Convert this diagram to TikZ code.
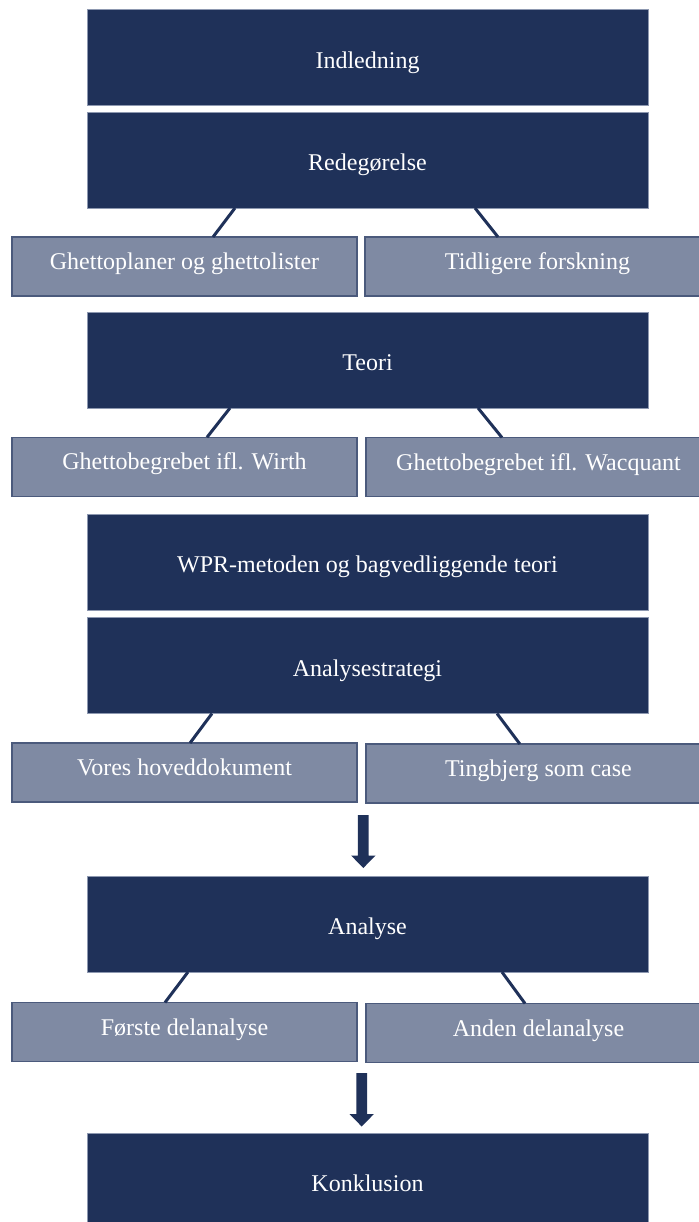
\documentclass[tikz,border=0pt]{standalone}
\usepackage{fontspec}
\setmainfont{Liberation Serif}
\usetikzlibrary{calc}
\definecolor{navy}{HTML}{1F3159}
\definecolor{slate}{HTML}{7F8AA3}
\definecolor{slateedge}{HTML}{4B5A7C}
\definecolor{navyedge}{HTML}{8D98B0}
\newcommand\flowarrow[2]{%
  \fill[navy] ($(#1)+(-5.35,0)$) -- ($(#1)+(5.35,0)$) -- ($(#2)+(5.35,-12.5)$)
    -- ($(#2)+(12.2,-12.5)$) -- (#2) -- ($(#2)+(-12.2,-12.5)$)
    -- ($(#2)+(-5.35,-12.5)$) -- cycle;}
\begin{document}
\begin{tikzpicture}[x=0.5pt,y=-0.5pt,
  darkbox/.style={rectangle, fill=navy, draw=navyedge, line width=0.4pt,
    minimum width=280.5pt, minimum height=48pt, inner sep=0pt, outer sep=0pt,
    text=white, font=\fontsize{12}{14}\selectfont, text height=13.1pt, text depth=2.6pt},
  lightbox/.style={rectangle, fill=slate, draw=slateedge, line width=0.8pt,
    minimum width=172.5pt, minimum height=29.5pt, inner sep=0pt, outer sep=0pt,
    text=white, font=\fontsize{12}{14}\selectfont, text height=7.5pt, text depth=4.5pt},
  link/.style={draw=navy, line width=1.5pt}
]
\fill[white] (0,0) rectangle (698,1222);
\useasboundingbox (0,0) rectangle (698,1222);

% main boxes
\node[darkbox] (ind) at (367.5,57.75) {Indledning};
\node[darkbox] (red) at (367.5,160) {Redegørelse};
\node[darkbox] (teo) at (367.5,360) {Teori};
\node[darkbox] (wpr) at (367.5,562) {WPR-metoden og bagvedliggende teori};
\node[darkbox] (ast) at (367.5,665.5) {Analysestrategi};
\node[darkbox] (ana) at (367.5,924) {Analyse};
\node[darkbox] (kon) at (367.5,1181) {Konklusion};

% sub boxes
\node[lightbox] (gh) at (184.5,266.5) {Ghettoplaner og ghettolister};
\node[lightbox] (tid) at (537.5,266.5) {Tidligere forskning};
\node[lightbox] (wir) at (184.5,466.8) {Ghettobegrebet ifl. Wirth};
\node[lightbox] (wac) at (538.5,467) {Ghettobegrebet ifl. Wacquant};
\node[lightbox] (vor) at (184.5,772.5) {Vores hoveddokument};
\node[lightbox] (tin) at (538.5,773.5) {Tingbjerg som case};
\node[lightbox] (for) at (184.5,1032) {Første delanalyse};
\node[lightbox] (and) at (538.5,1033) {Anden delanalyse};

% connectors
\draw[link] ($(red.south west)!0.2638!(red.south east)$) -- ($(gh.north west)!0.5826!(gh.north east)$);
\draw[link] ($(red.south west)!0.6916!(red.south east)$) -- ($(tid.north west)!0.3855!(tid.north east)$);
\draw[link] ($(teo.south west)!0.2549!(teo.south east)$) -- ($(wir.north west)!0.5652!(wir.north east)$);
\draw[link] ($(teo.south west)!0.6970!(teo.south east)$) -- ($(wac.north west)!0.3940!(wac.north east)$);
\draw[link] ($(ast.south west)!0.2228!(ast.south east)$) -- ($(vor.north west)!0.5160!(vor.north east)$);
\draw[link] ($(ast.south west)!0.7308!(ast.south east)$) -- ($(tin.north west)!0.4460!(tin.north east)$);
\draw[link] ($(ana.south west)!0.1800!(ana.south east)$) -- ($(for.north west)!0.4435!(for.north east)$);
\draw[link] ($(ana.south west)!0.7397!(ana.south east)$) -- ($(and.north west)!0.4609!(and.north east)$);

% block arrows
\coordinate (a1s) at (363.3,815);
\coordinate (a1e) at (363.3,868);
\coordinate (a2s) at (361.7,1073);
\coordinate (a2e) at (361.7,1126.5);
\flowarrow{a1s}{a1e}
\flowarrow{a2s}{a2e}
\end{tikzpicture}
\end{document}
